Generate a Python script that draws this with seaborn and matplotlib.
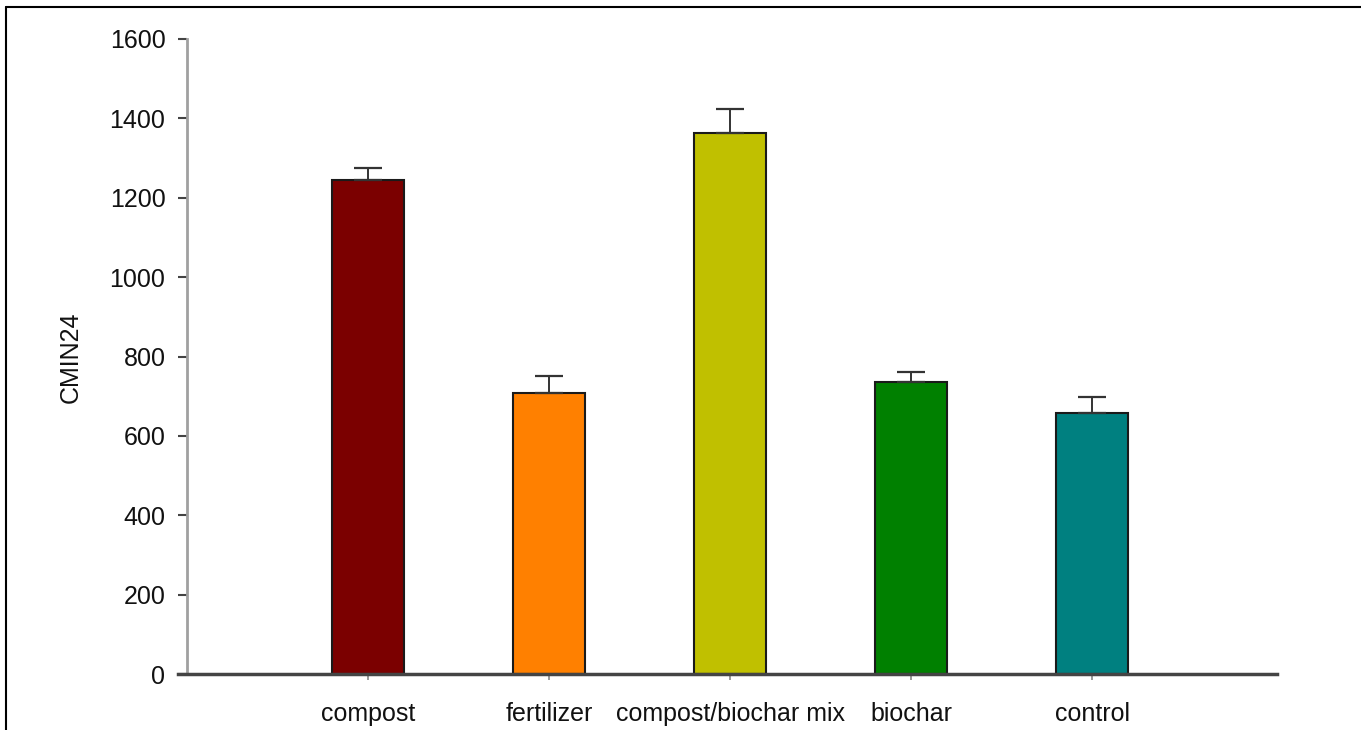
import matplotlib
matplotlib.use("Agg")
import matplotlib.pyplot as plt
from matplotlib.lines import Line2D
import seaborn as sns
import pandas as pd

# Treatment means and standard errors
treatments = ["compost", "fertilizer", "compost/biochar mix", "biochar", "control"]
cmin24 = [1245, 707, 1363, 735, 658]
cmin24_se = [30, 45, 60, 25, 40]
bar_colors = ["#7b0000", "#ff8000", "#c0c000", "#008000", "#008080"]
y_ticks = [0, 200, 400, 600, 800, 1000, 1200, 1400, 1600]

sns.set_theme(style="white")
plt.rcParams["font.family"] = ["Liberation Sans", "DejaVu Sans"]

fig = plt.figure(figsize=(13.61, 7.30), dpi=100)
ax = fig.add_axes([187 / 1361, 1 - 674 / 730, (1277 - 187) / 1361, (674 - 39) / 730])

df = pd.DataFrame({"treatment": treatments, "value": cmin24})
sns.barplot(data=df, x="treatment", y="value", hue="treatment",
            palette=bar_colors, order=treatments, hue_order=treatments,
            width=0.4, edgecolor="#1a1a1a", linewidth=1.5,
            errorbar=None, legend=False, ax=ax, saturation=1)

# Upper-only error bars
ax.errorbar(range(len(treatments)), cmin24,
            yerr=[[0] * len(cmin24), cmin24_se],
            fmt="none", ecolor="#333333", elinewidth=1.4,
            capsize=10, capthick=1.6, zorder=3)

ax.set_xlim(-1.0, 5.022)
ax.set_ylim(0, 1600)
ax.set_yticks(y_ticks)
ax.set_yticklabels([str(t) for t in y_ticks])

for side in ["top", "right"]:
    ax.spines[side].set_visible(False)
ax.spines["left"].set_color("#a0a0a0")
ax.spines["left"].set_linewidth(2)
ax.spines["bottom"].set_color("#444444")
ax.spines["bottom"].set_linewidth(2.5)
ax.spines["bottom"].set_bounds(-1.05, 5.022)

ax.tick_params(axis="y", direction="out", length=6.5, width=1.5,
               color="#444444", pad=9, labelsize=18, labelcolor="#111111",
               left=True)
ax.tick_params(axis="x", direction="out", length=4, width=1.2,
               color="#888888", pad=16.5, labelsize=18, labelcolor="#111111",
               bottom=True)

ax.set_xlabel("")
ax.set_ylabel("CMIN24", fontsize=18, color="#111111")
ax.yaxis.set_label_coords((83 - 187) / 1090, (674 - 357) / 635)

# Outer frame (top and left edges)
fig.add_artist(Line2D([6 / 1361, 6 / 1361], [0, 1 - 7 / 730],
                      transform=fig.transFigure, color="black", lw=1.5))
fig.add_artist(Line2D([6 / 1361, 1], [1 - 7 / 730, 1 - 7 / 730],
                      transform=fig.transFigure, color="black", lw=1.5))

fig.savefig("out.png", dpi=100, facecolor="white")
